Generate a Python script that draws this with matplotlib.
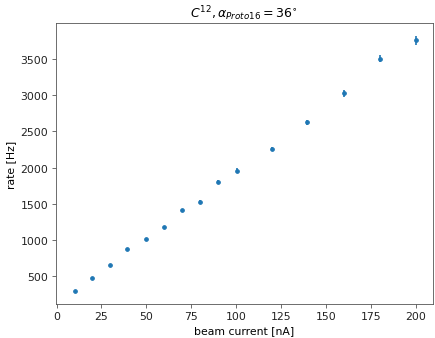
import matplotlib
matplotlib.use('Agg')
import matplotlib.pyplot as plt

# beam current [nA] and measured rate [Hz]
current = [10, 20, 30, 39, 50, 60, 70, 80, 90, 100.5, 120, 139.5, 160, 180, 200]
rate = [297, 477, 650, 876, 1008, 1179, 1413, 1527, 1798, 1958, 2257, 2624, 3028, 3505, 3757]
rate_err = [5, 8, 10, 13, 15, 18, 21, 23, 27, 30, 34, 40, 46, 53, 58]

# reference looks like a default figure rendered at a small dpi
fig = plt.figure(figsize=(435 / 75, 339 / 75), dpi=75)
ax = fig.add_axes([0.128, 0.100, 0.867, 0.828])

ax.errorbar(current, rate, yerr=rate_err, fmt='o', markersize=3.5,
            color='#1f77b4', elinewidth=1.6, capsize=0)

ax.set_xlim(-0.5, 209.5)
ax.set_title(r'$C^{12}, \alpha_{Proto16} = 36^{\circ}$', fontsize=12)
ax.set_xlabel('beam current [nA]', fontsize=10.4)
ax.set_ylabel('rate [Hz]', fontsize=10.4)

for sp in ax.spines.values():
    sp.set_color('#555555')
ax.tick_params(color='#555555', labelcolor='#222222', labelsize=10.4)

fig.savefig('out.png', dpi=75)
